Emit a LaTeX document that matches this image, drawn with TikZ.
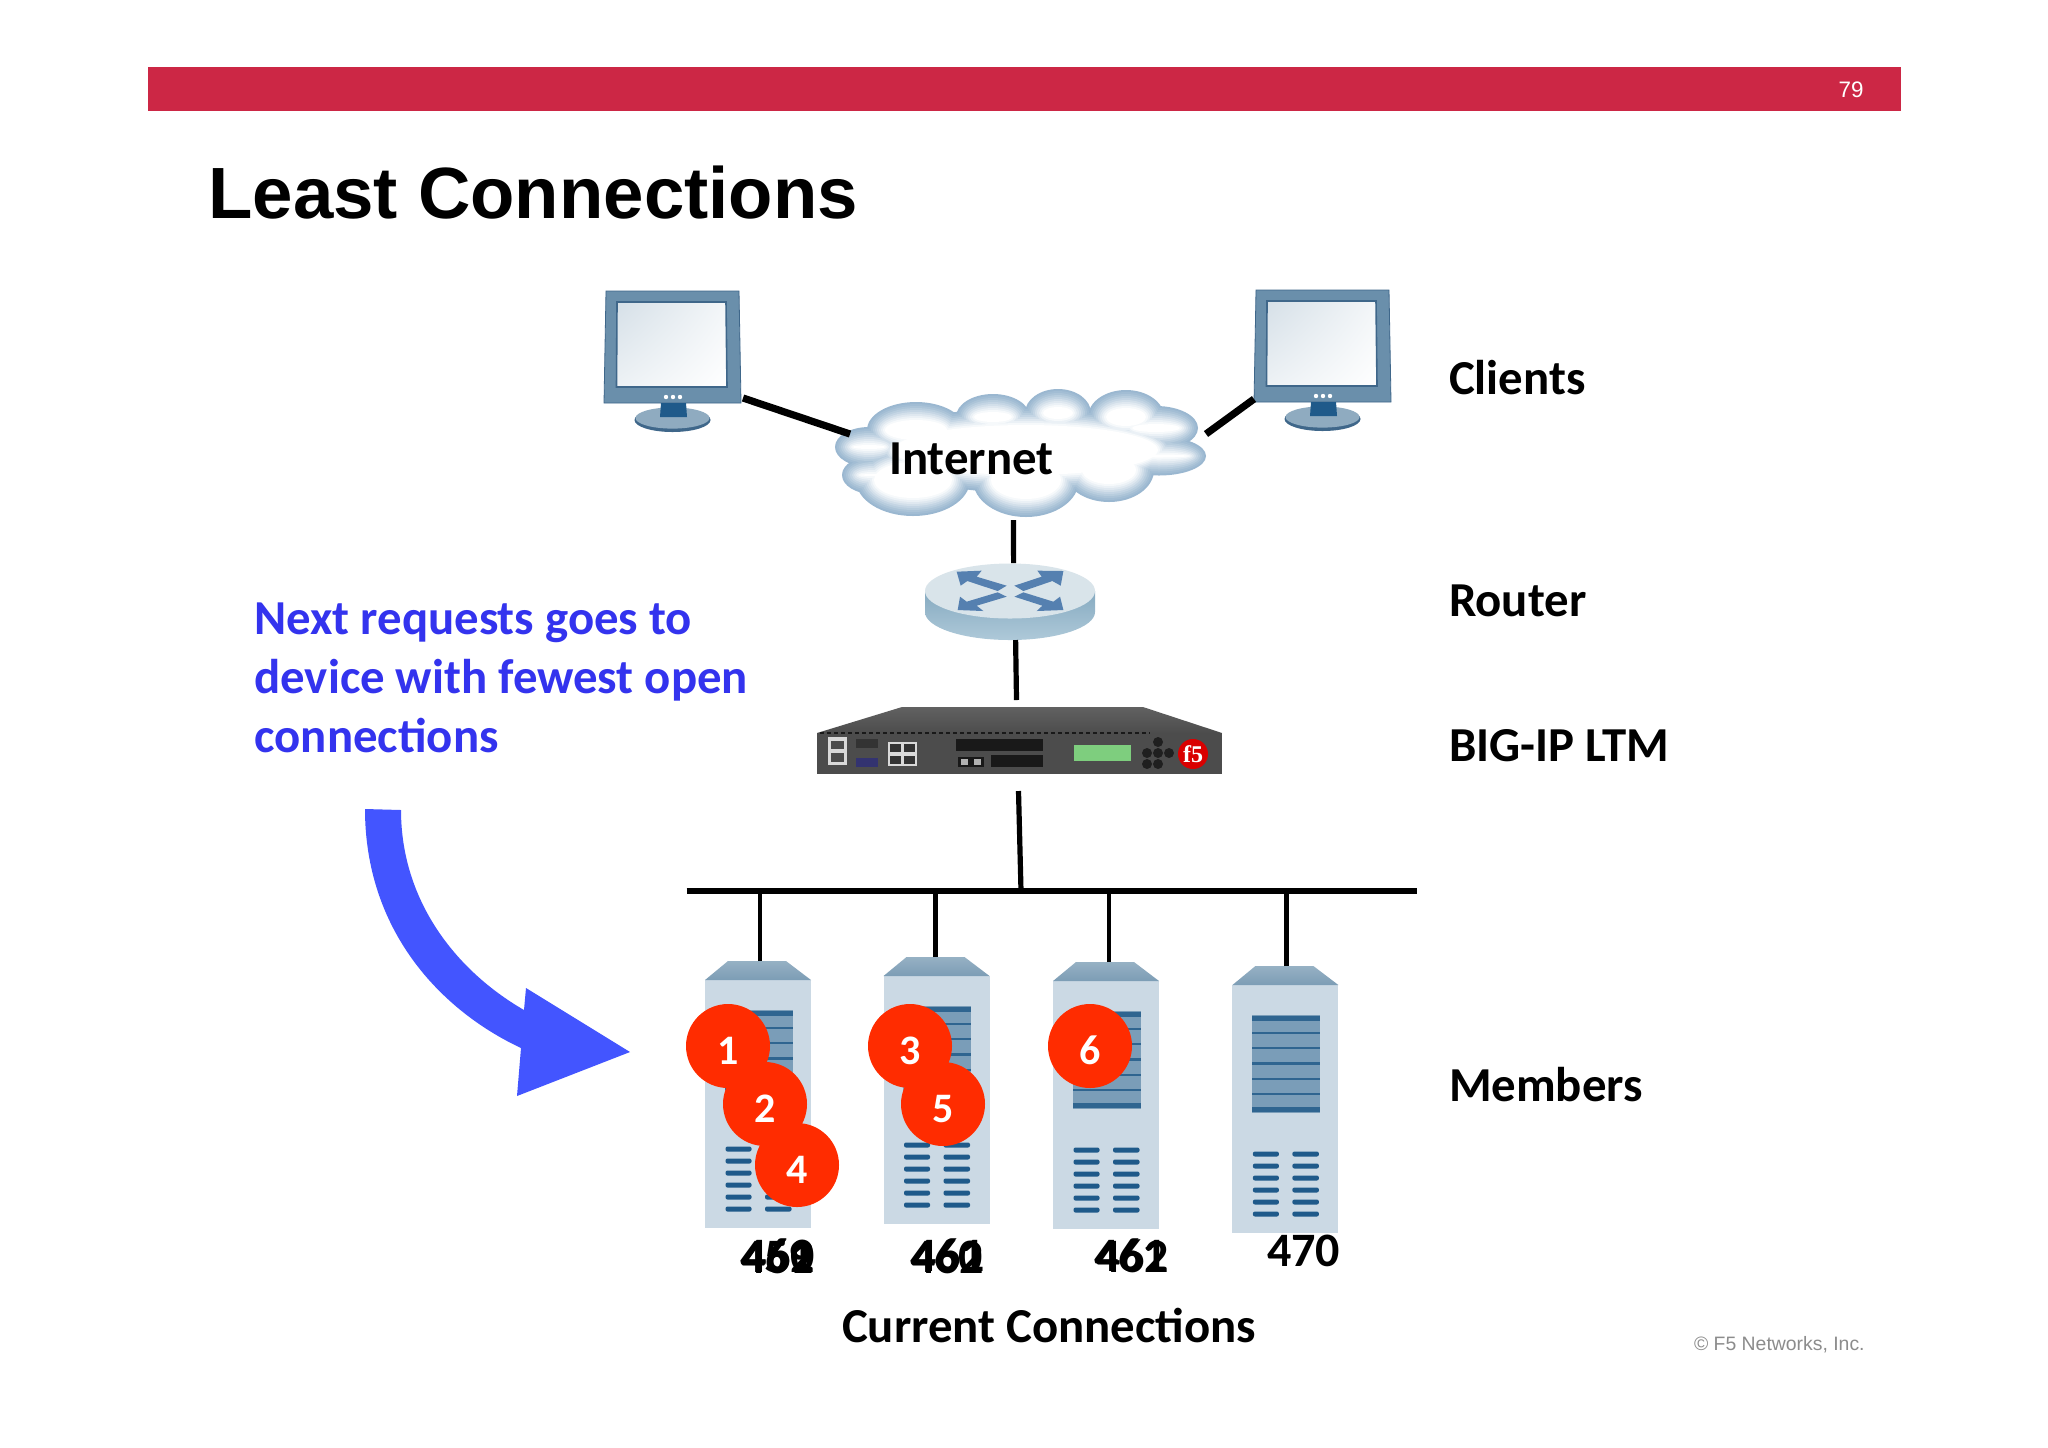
\documentclass[tikz,border=0pt]{standalone}
\usepackage{fontspec}
\setmainfont{Carlito}
\newfontfamily\helv{Liberation Sans}
\newfontfamily\logofont{Liberation Serif}
\usepackage{tikz}
\usetikzlibrary{positioning}
\usetikzlibrary{shadings}
\definecolor{barred}{HTML}{CC2745}
\definecolor{framecol}{HTML}{6A8FAB}
\definecolor{edgecol}{HTML}{3F678A}
\definecolor{cloudcol}{HTML}{9AB7D0}
\definecolor{routertop}{HTML}{D9E4EA}
\definecolor{routerhigh}{HTML}{86AAC0}
\definecolor{routerlow}{HTML}{AEC9D9}
\definecolor{routerarrow}{HTML}{5580B0}
\definecolor{srvbody}{HTML}{CBD9E4}
\definecolor{srvtop}{HTML}{7C9DB5}
\definecolor{srvpanel}{HTML}{7A9DB8}
\definecolor{srvstripe}{HTML}{2F6590}
\definecolor{srvslot}{HTML}{1F5A8A}
\definecolor{notecol}{HTML}{3333EE}
\definecolor{arrowcol}{HTML}{4355FF}
\definecolor{badgecol}{HTML}{FF2C00}
\tikzset{
  pics/monitor/.style={code={
    \node[anchor=north west,minimum width=67pt,minimum height=56pt,inner sep=0pt,outer sep=0pt](-body) at (0,0){};
    \fill[framecol,draw=edgecol,line width=.4pt] (0,0) -- (133,0) -- (135,112) -- (-2,112) -- cycle;
    \shade[upper left=white!72!framecol,lower right=white,upper right=white!92!framecol,lower left=white!88!framecol,draw=edgecol,line width=.8pt] (11,11) -- (120,11) -- (121,96) -- (10.5,96) -- cycle;
    \fill[edgecol] (66.5,129) ellipse [x radius=19pt,y radius=6pt];
    \fill[framecol!75!white] (66.5,127) ellipse [x radius=18.5pt,y radius=5.3pt];
    \fill[srvslot] (55,112) -- (80,112) -- (81,126) -- (54,126) -- cycle;
    \foreach \dotx in {60,67,74}
      \fill[white] (\dotx,106) circle [radius=1.1pt];
  }},
  pics/server/.style={code={
    \coordinate(-top) at (53,0);
    \node[anchor=north west,fill=srvbody,minimum width=53pt,minimum height=124pt,inner sep=0pt,outer sep=0pt](-body) at (0,19){};
    \shade[top color=srvtop!80!white,bottom color=srvtop] (23,0) -- (81,0) -- (106,19) -- (0,19) -- cycle;
    \fill[srvpanel] (19.5,49) rectangle (87.5,147);
    \fill[srvstripe] (19.5,50) rectangle (87.5,55);
    \foreach \rowy in {67,82,97.5,113,128}
      \fill[srvstripe] (19.5,\rowy-1.2) rectangle (87.5,\rowy+1.2);
    \fill[srvstripe] (19.5,141) rectangle (87.5,146);
    \foreach \rowy in {188,200,212,224,236,248}{
      \fill[srvslot,rounded corners=1pt] (20.5,\rowy-2.5) rectangle (46.5,\rowy+2.5);
      \fill[srvslot,rounded corners=1pt] (60,\rowy-2.5) rectangle (86.5,\rowy+2.5);
    }
  }}
}
\begin{document}
\begin{tikzpicture}[x=0.5pt,y=-0.5pt,
    link/.style={draw,line width=2.6pt},
    heavylink/.style={draw,line width=3.6pt},
    tier/.style={anchor=base west,inner sep=0pt,outer sep=0pt,font=\fontsize{24.4}{28}\selectfont\bfseries},
    tally/.style={anchor=base west,inner sep=0pt,outer sep=0pt,font=\fontsize{24}{28}\selectfont\bfseries},
    badge/.style={circle,fill=badgecol,text=white,minimum size=42pt,inner sep=0pt,text height=18pt,text depth=0pt,font=\fontsize{21}{24}\selectfont\bfseries}]
    \useasboundingbox (0,0) rectangle (2048,1447);
    \fill[white] (0,0) rectangle (2048,1447);
    % header
    \fill[barred] (148,67) rectangle (1901,111);
    \node[inner sep=0pt,text=white,font=\helv\fontsize{11.2}{13}\selectfont](pagenum) at (1851,90){79};
    \node[anchor=base west,inner sep=0pt,font=\helv\fontsize{36.3}{40}\selectfont\bfseries](title) at (208,218){Least Connections};
    %
    % cloud
    \node[minimum width=184.5pt,minimum height=64pt,inner sep=0pt,outer sep=0pt](cloud) at (1020.5,453){};
    \foreach \inset/\tone in {0/100,2/92,4/82,6/70,8/58,10/45,12/32,14/20,16/9,18/0}{
      \foreach \cx/\cy/\rx/\ry in {916/430/49/28,993/417/37/23,1058/413/33/24,1126/417/38/27,1156/428/42/22,1159/456/47/19.5,1109/470/45/32,1026/480/53/37,913/480/57/36,869/447/34/20,873/475/31/19,1026/450/150/43}
        \fill[cloudcol!\tone!white] (\cx,\cy) ellipse [x radius={(\rx-\inset)*0.5pt},y radius={(\ry-\inset)*0.5pt}];
    }
    \node[tier](internet) at (889,474){Internet};
    %
    \pic (clientA) at (606,291) {monitor};
    \pic (clientB) at (1256,290) {monitor};
    \coordinate[xshift=1.5pt,yshift=2.5pt](clientAend) at (clientA-body.south east);
    \coordinate[xshift=7pt,yshift=9.5pt](cloudW) at (cloud.west);
    \coordinate[xshift=-1pt,yshift=1.5pt](clientBend) at (clientB-body.south west);
    \coordinate[xshift=.5pt,yshift=9.5pt](cloudE) at (cloud.east);
    \draw[heavylink] (clientAend) -- (cloudW);
    \draw[heavylink] (clientBend) -- (cloudE);
    %
    % router
    \node[minimum width=85pt,minimum height=38.5pt,inner sep=0pt,outer sep=0pt](router) at (1010.6,601.5){};
    \shade[top color=routerhigh,bottom color=routerlow] (925,591) -- (925,612) arc[start angle=180,end angle=360,x radius=42.5pt,y radius=14pt] -- (1095,591) -- cycle;
    \fill[routertop] (1010,591) ellipse [x radius=42.5pt,y radius=13.75pt];
    \begin{scope}[shift={(915,555)},x=0.1667pt,y=-0.1667pt]
      \fill[routerarrow] (125,50) -- (200,47) -- (185,65) -- (275,92) -- (248,108) -- (157,78) -- (137,92) -- cycle;
      \fill[routerarrow] (445,48) -- (367,47) -- (380,65) -- (298,92) -- (325,108) -- (412,78) -- (437,92) -- cycle;
      \fill[routerarrow] (128,165) -- (135,125) -- (155,140) -- (248,112) -- (275,125) -- (185,152) -- (205,168) -- cycle;
      \fill[routerarrow] (445,165) -- (435,125) -- (415,140) -- (325,112) -- (298,125) -- (382,152) -- (365,168) -- cycle;
    \end{scope}
    %
    % big-ip box
    \shade[top color=black!62,bottom color=black!70] (817,733) -- (902,707) -- (1143,707) -- (1222,733) -- cycle;
    \node[anchor=north west,fill=black!70,minimum width=202.5pt,minimum height=20.5pt,inner sep=0pt,outer sep=0pt](ltm) at (817,733){};
    \draw[black!90,line width=1pt,dash pattern=on 2pt off 1.5pt] (820,733) -- (1150,733);
    \fill[white!85!black] (828,737) rectangle (847,765);
    \fill[black!70] (831,741) rectangle (844,749);
    \fill[black!70] (831,753) rectangle (844,762);
    \fill[black!80] (856,739) rectangle (878,748);
    \fill[black!70!blue!80!white] (856,758) rectangle (878,767);
    \fill[white!85!black] (888,742) rectangle (917,766);
    \foreach \portx/\porty in {890/744,904/744,890/756,904/756}
      \fill[black!80] (\portx,\porty) rectangle ++(11,8);
    \fill[black!90] (956,739) rectangle (1043,751);
    \fill[black!90] (991,755) rectangle (1043,767);
    \fill[black!90] (958,757) rectangle (984,767);
    \fill[white!70!black] (961,759) rectangle (968,765);
    \fill[white!70!black] (974,759) rectangle (981,765);
    \fill[green!45!gray!70!white] (1074,745) rectangle (1131,761);
    \foreach \keyx/\keyy in {1158/742,1147/753,1158/753,1169/753,1147/764,1158/764}
      \fill[black!88] (\keyx,\keyy) circle [radius=2.5pt];
    \fill[red!85!black] (1193,754) circle [radius=7.5pt];
    \node[inner sep=0pt,text=white,font=\logofont\fontsize{12}{13}\selectfont\bfseries](logo) at (1193,754){f5};
    %
    \coordinate[xshift=-3.5pt,yshift=-1.5pt](cloudS) at (cloud.south);
    \coordinate[xshift=1.5pt](routerN) at (router.north);
    \coordinate[xshift=2.5pt](routerS) at (router.south);
    \coordinate[xshift=-1.5pt,yshift=16.5pt](ltmN) at (ltm.north);
    \coordinate[xshift=-.5pt,yshift=-8.5pt](ltmS) at (ltm.south);
    \draw[link] (cloudS) -- (routerN);
    \draw[link] (routerS) -- (ltmN);
    %
    % members
    \coordinate(busL) at (686.5,891);
    \coordinate(busR) at (1416.6,891);
    \coordinate(busM) at (1021,891);
    \draw[link] (ltmS) -- (busM);
    \draw[heavylink,line width=2.8pt] (busL) -- (busR);
    \pic (memberA) at (705,961) {server};
    \pic (memberB) at (883.5,957) {server};
    \pic (memberC) at (1053,962) {server};
    \pic (memberD) at (1232.4,966) {server};
    \coordinate[xshift=1pt](dropA) at (memberA-top);
    \coordinate[xshift=-.5pt](dropB) at (memberB-top);
    \coordinate[xshift=1.5pt](dropC) at (memberC-top);
    \coordinate[xshift=.5pt](dropD) at (memberD-top);
    \draw[link,line width=2.4pt] (dropA) -- (dropA |- busL);
    \draw[link,line width=2.4pt] (dropB) -- (dropB |- busL);
    \draw[link,line width=2.4pt] (dropC) -- (dropC |- busL);
    \draw[link,line width=2.4pt] (dropD) -- (dropD |- busL);
    %
    \node[badge](req1) at (728,1046){1};
    \node[badge](req2) at (765,1104){2};
    \node[badge](req4) at (797,1165){4};
    \node[badge](req3) at (910,1046){3};
    \node[badge](req5) at (943,1104){5};
    \node[badge](req6) at (1090,1046){6};
    %
    \node[tally](countA0) at (740,1272){459};
    \node[tally](countA1) at (742,1271){460};
    \node[tally](countA2) at (741,1273){461};
    \node[tally](countA3) at (742,1272){462};
    \node[tally](countB0) at (910,1272){460};
    \node[tally](countB1) at (912,1271){461};
    \node[tally](countB2) at (911,1273){462};
    \node[tally](countC0) at (1094,1271){461};
    \node[tally](countC1) at (1096,1272){462};
    \node[tally](countD0) at (1267,1266){470};
    \node[tier](current) at (842,1342){Current Connections};
    %
    \node[tier](clients) at (1449,394){Clients};
    \node[tier](routerlab) at (1449,616){Router};
    \node[tier](ltmlab) at (1449,761){BIG-IP LTM};
    \node[tier](memberslab) at (1449,1101){Members};
    %
    \node[anchor=west,inner sep=0pt,align=left,text=notecol,font=\fontsize{24.4}{29.5}\selectfont\bfseries](note) at (254,678){Next requests goes to\\device with fewest open\\connections};
    \fill[arrowcol] (365,809) -- (401,810) .. controls (401,900) and (455,970) .. (524,1010) -- (526,988) -- (630,1052) -- (517,1096) -- (521,1048) .. controls (440,1010) and (365,930) .. (365,809) -- cycle;
    %
    \node[anchor=base east,inner sep=0pt,text=black!45,font=\helv\fontsize{9.7}{12}\selectfont](copy) at (1865,1350){© F5 Networks, Inc.};
\end{tikzpicture}
\end{document}
